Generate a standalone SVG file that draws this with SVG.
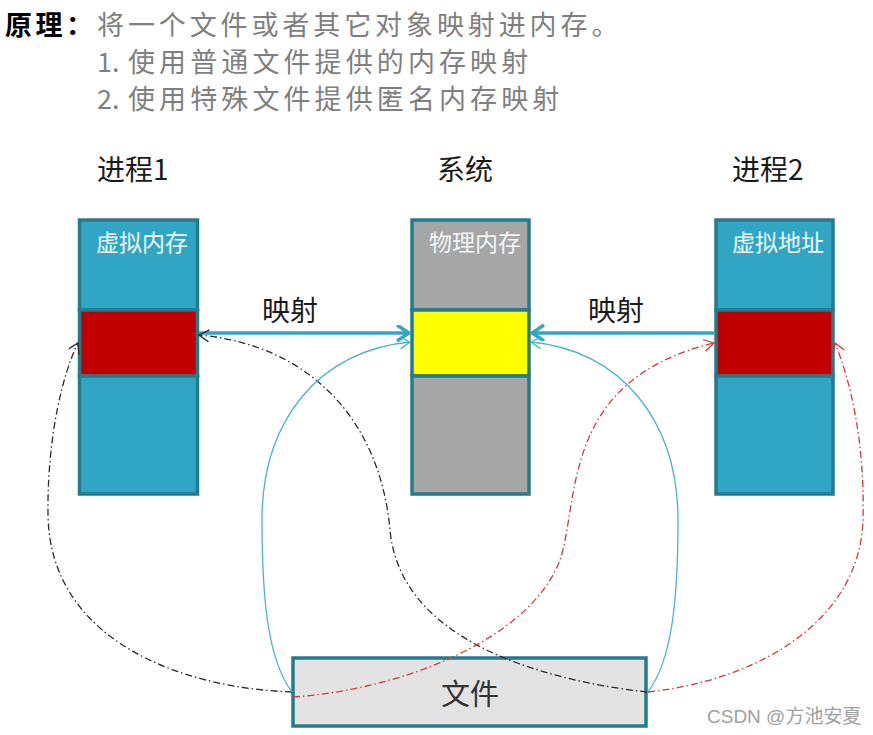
<svg xmlns="http://www.w3.org/2000/svg" width="873" height="735" viewBox="0 0 873 735">
<style>
.cjk{font-family:"Noto Sans CJK SC","Liberation Sans",sans-serif}
.gray{fill:#7f7f7f;font-size:27px}
.lbl{fill:#1a1a1a;font-size:28px}
.inbox{fill:#eef6f8;font-size:23px}
.seg{stroke:#257b8d;stroke-width:3.5}
.blue{fill:#31a6c4}
.red{fill:#c00000}
.grey{fill:#a6a6a6}
.yel{fill:#ffff00}
.dk{fill:none;stroke:#2a2a2a;stroke-width:1.3;stroke-dasharray:7 3 1.5 3}
.rd{fill:none;stroke:#d23a3a;stroke-width:1.3;stroke-dasharray:7 3 1.5 3}
.cy{fill:none;stroke:#4bb3cc;stroke-width:1.3}
.thick{fill:none;stroke:#31a6c4;stroke-width:3.5}
</style>
<defs>
<marker id="aK" markerUnits="userSpaceOnUse" markerWidth="14" markerHeight="14" refX="11" refY="6" orient="auto"><path d="M1,0 L11,6 L1,12" fill="none" stroke="#2a2a2a" stroke-width="1.3"/></marker>
<marker id="aR" markerUnits="userSpaceOnUse" markerWidth="14" markerHeight="14" refX="11" refY="6" orient="auto"><path d="M1,0 L11,6 L1,12" fill="none" stroke="#d23a3a" stroke-width="1.3"/></marker>
<marker id="aC" markerUnits="userSpaceOnUse" markerWidth="14" markerHeight="14" refX="11" refY="6" orient="auto"><path d="M1,0 L11,6 L1,12" fill="none" stroke="#4bb3cc" stroke-width="1.3"/></marker>
<marker id="aT" markerUnits="userSpaceOnUse" markerWidth="16" markerHeight="18" refX="13" refY="8" orient="auto"><path d="M1,0 L13,8 L1,16" fill="none" stroke="#31a6c4" stroke-width="3.5"/></marker>
</defs>
<rect width="873" height="735" fill="#ffffff"/>

<g id="title" class="cjk">
<text x="5" y="35" font-size="27" font-weight="bold" fill="#000000" letter-spacing="3.5">原理：</text>
<text x="97" y="35" class="gray" letter-spacing="3.9">将一个文件或者其它对象映射进内存。</text>
<text x="97" y="72" class="gray">1.</text>
<text x="128" y="72" class="gray" letter-spacing="4.1">使用普通文件提供的内存映射</text>
<text x="97" y="109" class="gray">2.</text>
<text x="128" y="109" class="gray" letter-spacing="4.1">使用特殊文件提供匿名内存映射</text>
</g>

<g id="proc1">
<text x="97" y="180" class="cjk lbl">进程1</text>
<rect x="79.5" y="220" width="118" height="90" class="blue seg"/>
<rect x="79.5" y="310" width="118" height="66" class="red seg"/>
<rect x="79.5" y="376" width="118" height="118" class="blue seg"/>
<text x="96" y="251" class="cjk inbox">虚拟内存</text>
</g>

<g id="system">
<text x="437" y="180" class="cjk lbl">系统</text>
<rect x="412" y="220" width="117" height="90" class="grey seg"/>
<rect x="412" y="310" width="117" height="66" class="yel seg"/>
<rect x="412" y="376" width="117" height="118" class="grey seg"/>
<text x="429" y="251" class="cjk inbox">物理内存</text>
</g>

<g id="proc2">
<text x="732" y="180" class="cjk lbl">进程2</text>
<rect x="716" y="220" width="117" height="90" class="blue seg"/>
<rect x="716" y="310" width="117" height="66" class="red seg"/>
<rect x="716" y="376" width="117" height="118" class="blue seg"/>
<text x="732" y="251" class="cjk inbox">虚拟地址</text>
</g>

<g id="file">
<rect x="293" y="658" width="353" height="68" fill="#e3e3e3" stroke="#257b8d" stroke-width="3.5"/>
<text x="470" y="705" text-anchor="middle" class="cjk" font-size="29" fill="#333333">文件</text>
</g>

<g id="connectors">
<path class="thick" d="M199,333 L409,333" marker-end="url(#aT)"/>
<path class="thick" d="M715,333 L532,333" marker-end="url(#aT)"/>
<text x="262" y="321" class="cjk lbl">映射</text>
<text x="588" y="321" class="cjk lbl">映射</text>
<path class="dk" d="M292,692 C180,688 50,640 48,515 C47,440 62,375 78,343" marker-end="url(#aK)"/>
<path class="dk" d="M647,692 C540,680 400,640 390,530 C380,420 310,345 199,335" marker-end="url(#aK)"/>
<path class="cy" d="M292,692 C268,660 262,600 262,520 C262,420 320,350 410,342" marker-end="url(#aC)"/>
<path class="cy" d="M648,692 C672,660 678,600 678,520 C678,420 620,350 531,342" marker-end="url(#aC)"/>
<path class="rd" d="M293,697 C400,690 530,640 560,560 C580,500 560,380 714,343" marker-end="url(#aR)"/>
<path class="rd" d="M648,692 C760,680 860,620 863,520 C865,440 850,380 835,343" marker-end="url(#aR)"/>
</g>

<text x="707" y="723" font-family="'Liberation Sans','Noto Sans CJK SC',sans-serif" font-size="19" fill="#a0a0a0">CSDN @方池安夏</text>
</svg>
